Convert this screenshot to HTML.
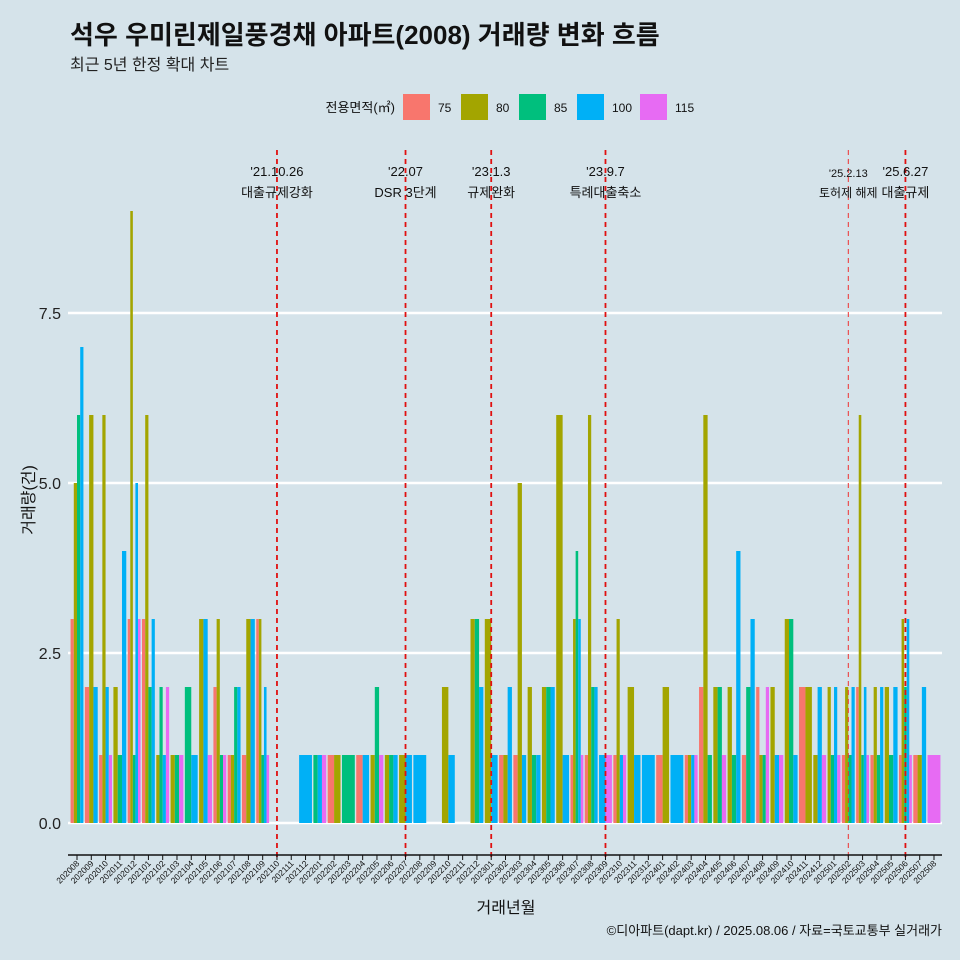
<!DOCTYPE html>
<html><head><meta charset="utf-8"><style>
body{margin:0;background:#d5e3ea;}
svg{display:block;font-family:"Liberation Sans","Noto Sans CJK KR",sans-serif;}
</style></head><body>
<svg id="c" width="960" height="960" viewBox="0 0 960 960">
<rect width="960" height="960" fill="#d5e3ea"/>
<text x="70" y="44" font-size="26" font-weight="bold" fill="#111">석우 우미린제일풍경채 아파트(2008) 거래량 변화 흐름</text>
<text x="70" y="70" font-size="16" fill="#222">최근 5년 한정 확대 차트</text>
<g id="legend"><text x="395" y="112" font-size="13" text-anchor="end" fill="#111">전용면적(㎡)</text></g>
<g id="grid"></g><g id="bars"></g><g id="events"></g><g id="axes"></g>
<text transform="translate(34,500) rotate(-90)" font-size="16" text-anchor="middle" fill="#111">거래량(건)</text>
<text x="506" y="913" font-size="16" text-anchor="middle" fill="#111">거래년월</text>
<text x="942" y="935" font-size="13" text-anchor="end" fill="#111">©디아파트(dapt.kr) / 2025.08.06 / 자료=국토교통부 실거래가</text>
</svg>
<script>
const seriesNames=["75","80","85","100","115"];
const colors=["#F8766D","#A3A500","#00BF7D","#00B0F6","#E76BF3"];
const s75 =[3,2,1,0,3,3,0,0,0,0,2,1,1,3,0,0,0,0,1,0,1,0,0,0,0,0,0,0,0,0,1,1,0,0,0,1,1,0,1,0,0,1,0,1,2,0,0,1,2,0,0,2,0,0,1,2,1,0,1,1,0];
const s80 =[5,6,6,2,9,6,1,1,0,3,3,1,3,3,0,0,0,0,1,0,0,1,1,1,0,0,2,0,3,3,1,5,2,2,6,3,6,0,3,2,0,2,0,1,6,2,2,0,1,2,3,2,1,2,2,6,2,2,3,1,0];
const s85 =[6,0,0,1,1,2,2,1,2,0,1,2,0,1,0,0,0,1,0,1,0,2,1,0,0,0,0,0,3,0,0,0,1,2,0,4,2,0,0,0,0,0,0,0,1,2,1,2,1,0,3,0,0,1,1,1,1,1,2,0,0];
const s100=[7,2,2,4,5,3,1,0,1,3,0,2,3,2,0,0,1,1,0,0,1,0,1,1,1,0,1,0,2,1,2,1,1,2,1,3,2,1,1,1,1,0,1,1,0,0,4,3,0,1,1,0,2,2,2,2,2,2,3,2,0];
const s115=[0,0,1,0,3,0,2,1,0,1,1,0,0,1,0,0,0,1,0,0,0,1,0,0,0,0,0,0,0,0,0,0,0,0,0,1,0,1,1,0,0,0,0,1,0,1,0,0,2,1,0,0,1,1,0,1,0,0,1,0,1];
const yTicks=[0,2.5,5,7.5];
const yTickLabels=["0.0","2.5","5.0","7.5"];
const eventMonths=["202110","202207","202301","202309","202502","202506"];
const eventDates=["'21.10.26","'22.07","'23.1.3","'23.9.7","'25.2.13","'25.6.27"];
const eventLabels=["대출규제강화","DSR 3단계","규제완화","특례대출축소","토허제 해제","대출규제"];
const series=[s75,s80,s85,s100,s115];
const months=[];for(let y=2020,m=8;;){months.push(y+String(m).padStart(2,'0'));if(y===2025&&m===8)break;m++;if(m>12){m=1;y++;}}
const NS="http://www.w3.org/2000/svg";
function mk(t,a,p){const e=document.createElementNS(NS,t);for(const k in a)e.setAttribute(k,a[k]);p.appendChild(e);return e;}
const x0=77,step=(934-77)/60;
const xS=i=>x0+step*i;
const yS=v=>823-v*68;
const G=id=>document.getElementById(id);
// grid
yTicks.forEach((t,k)=>{
 const l=mk('line',{x1:68,x2:942,y1:yS(t),y2:yS(t),stroke:'#fff','stroke-width':2.5},G('grid'));
 
 
 const tx=mk('text',{x:61,y:yS(t)+6,'font-size':16,'text-anchor':'end',fill:'#222'},G('axes'));
 tx.textContent=yTickLabels[k];
 
 
});
// bars
const bw=step*0.9;
months.forEach((m,i)=>{
 const present=[];series.forEach((s,k)=>{if(s[i]>0)present.push(k);});
 const w=bw/Math.max(1,present.length);
 present.forEach((k,j)=>{
  const v=series[k][i];
  const r=mk('rect',{x:xS(i)-bw/2+j*w,y:yS(v),width:w,height:yS(0)-yS(v),fill:colors[k]},G('bars'));
  
  
 });
});
// axis
const ax=mk('line',{x1:68,x2:942,y1:855,y2:855,stroke:'#111','stroke-width':1.5},G('axes'));


months.forEach((m,i)=>{
 const t=mk('line',{x1:xS(i),x2:xS(i),y1:855,y2:860,stroke:'#111'},G('axes'));
 
 
 const tx=mk('text',{transform:`translate(${xS(i)+3},864) rotate(-45)`,'font-size':8.5,'text-anchor':'end',fill:'#111'},G('axes'));
 tx.textContent=m;
 
 
});
// events
eventMonths.forEach((m,k)=>{
 const i=months.indexOf(m),x=xS(i);const thin=(m==="202502");
 const l=mk('line',{x1:x,x2:x,y1:150,y2:858,stroke:thin?'#f03030':'#e01010','stroke-width':thin?1:1.8,'stroke-dasharray':'5,4'},G('events'));
 
 
 const d=mk('text',{x:x,y:thin?177:176,'font-size':thin?11:13,'text-anchor':'middle',fill:'#111'},G('events'));
 d.textContent=eventDates[k];
 
 
 const t=mk('text',{x:x,y:197,'font-size':thin?12:13,'text-anchor':'middle',fill:'#111'},G('events'));
 t.textContent=eventLabels[k];
 
 
});
// legend
const lx=[403,461,519,577,640];
seriesNames.forEach((n,k)=>{
 const r=mk('rect',{x:lx[k],y:94,width:27,height:26,fill:colors[k]},G('legend'));
 
 
 const t=mk('text',{x:lx[k]+35,y:112,'font-size':12,fill:'#111'},G('legend'));
 t.textContent=n;
 
 
});
</script>
</body></html>
